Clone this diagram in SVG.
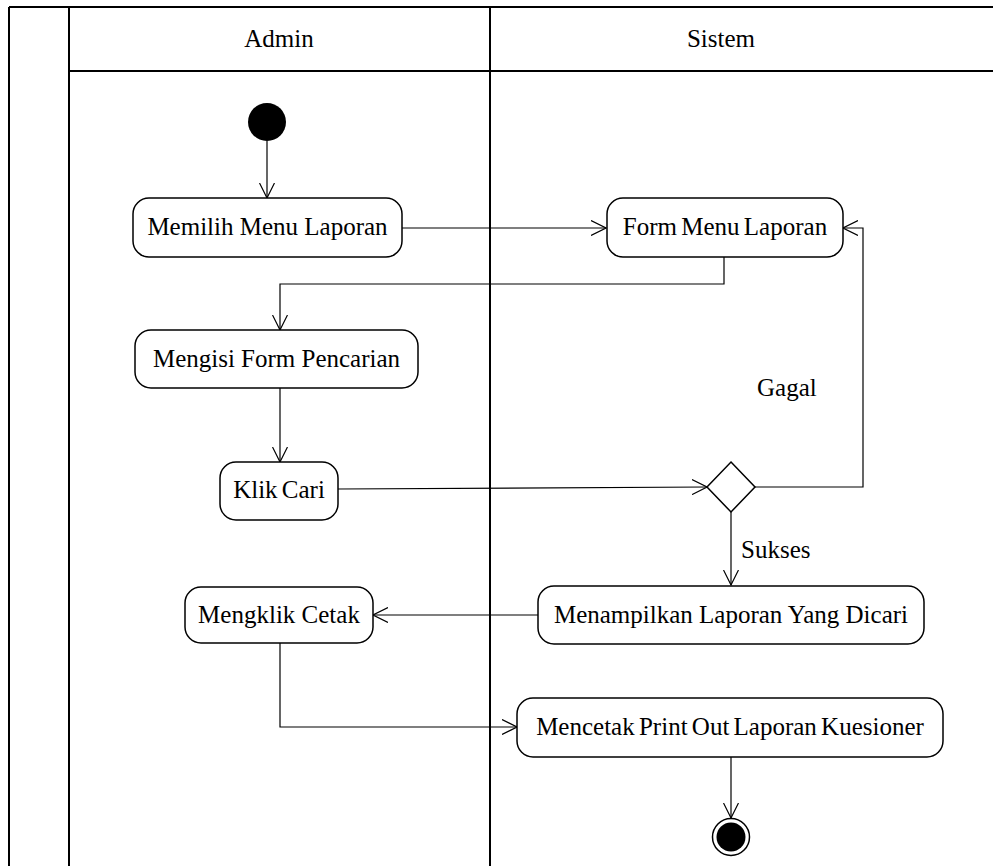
<svg xmlns="http://www.w3.org/2000/svg" width="993" height="866" viewBox="0 0 993 866">
  <style>
    .frame { fill: none; stroke: #000; stroke-width: 2; }
    .act { fill: #fff; stroke: #000; stroke-width: 1.5; }
    .lbl { font-family: "Liberation Serif", "Times New Roman", serif; font-size: 25px; fill: #000; }
    .mid { text-anchor: middle; }
    .flow { fill: none; stroke: #000; stroke-width: 1.2; }
  </style>
  <defs>
    <marker id="open" viewBox="0 0 16 16" refX="15" refY="8" markerWidth="16" markerHeight="16" markerUnits="userSpaceOnUse" orient="auto">
      <path d="M0,0.5 L15,8 L0,15.5" fill="none" stroke="#000" stroke-width="1.2"/>
    </marker>
  </defs>
  <rect width="993" height="866" fill="#fff"/>

  <!-- swimlane frame -->
  <g id="lanes">
    <line class="frame" x1="9" y1="7" x2="993" y2="7"/>
    <line class="frame" x1="9" y1="7" x2="9" y2="866" stroke-width="1.6"/>
    <line class="frame" x1="69" y1="7" x2="69" y2="866" stroke-width="2.4"/>
    <line class="frame" x1="69" y1="71" x2="993" y2="71"/>
    <line class="frame" x1="490" y1="7" x2="490" y2="866" stroke-width="1.6"/>
    <text class="lbl mid" x="279" y="47">Admin</text>
    <text class="lbl mid" x="721" y="47">Sistem</text>
  </g>

  <!-- connectors -->
  <g id="connectors">
    <line class="flow" x1="267" y1="141" x2="267" y2="198" marker-end="url(#open)"/>
    <line class="flow" x1="402" y1="228" x2="606" y2="228" marker-end="url(#open)"/>
    <polyline class="flow" points="724,257 724,284 280,284 280,330" marker-end="url(#open)"/>
    <line class="flow" x1="280" y1="388" x2="280" y2="462" marker-end="url(#open)"/>
    <line class="flow" x1="338" y1="489" x2="707" y2="487" marker-end="url(#open)"/>
    <polyline class="flow" points="755,487 863,487 863,228 843,228" marker-end="url(#open)"/>
    <line class="flow" x1="731" y1="512" x2="731" y2="585" marker-end="url(#open)"/>
    <line class="flow" x1="538" y1="615" x2="373" y2="615" marker-end="url(#open)"/>
    <polyline class="flow" points="280,643 280,727 517,727" marker-end="url(#open)"/>
    <line class="flow" x1="731" y1="757" x2="731" y2="818" marker-end="url(#open)"/>
    <text class="lbl" x="757" y="396">Gagal</text>
    <text class="lbl" x="741" y="558">Sukses</text>
  </g>

  <g id="start">
    <circle cx="267" cy="122" r="19" fill="#000"/>
  </g>

  <g id="memilih-menu-laporan">
    <rect class="act" x="133" y="198" width="269" height="59" rx="16"/>
    <text class="lbl mid" x="267.5" y="235">Memilih Menu Laporan</text>
  </g>

  <g id="form-menu-laporan">
    <rect class="act" x="607" y="198" width="236" height="59" rx="16"/>
    <text class="lbl mid" x="725" y="235" word-spacing="-2">Form Menu Laporan</text>
  </g>

  <g id="mengisi-form-pencarian">
    <rect class="act" x="135" y="330" width="283" height="58" rx="16"/>
    <text class="lbl mid" x="276.5" y="367">Mengisi Form Pencarian</text>
  </g>

  <g id="klik-cari">
    <rect class="act" x="220" y="462" width="118" height="58" rx="16"/>
    <text class="lbl mid" x="279" y="498" word-spacing="-2">Klik Cari</text>
  </g>

  <g id="decision">
    <polygon class="act" points="731,462 755,487 731,512 707,487"/>
  </g>

  <g id="menampilkan-laporan">
    <rect class="act" x="538" y="586" width="386" height="58" rx="16"/>
    <text class="lbl mid" x="731" y="623">Menampilkan Laporan Yang Dicari</text>
  </g>

  <g id="mengklik-cetak">
    <rect class="act" x="185" y="587" width="188" height="56" rx="16"/>
    <text class="lbl mid" x="279" y="623">Mengklik Cetak</text>
  </g>

  <g id="mencetak-print-out">
    <rect class="act" x="517" y="698" width="426" height="59" rx="16"/>
    <text class="lbl mid" x="730" y="735" word-spacing="-2">Mencetak Print Out Laporan Kuesioner</text>
  </g>

  <g id="end">
    <circle cx="731" cy="837" r="18.5" fill="#fff" stroke="#000" stroke-width="1.5"/>
    <circle cx="731" cy="837" r="14.5" fill="#000"/>
  </g>
</svg>
